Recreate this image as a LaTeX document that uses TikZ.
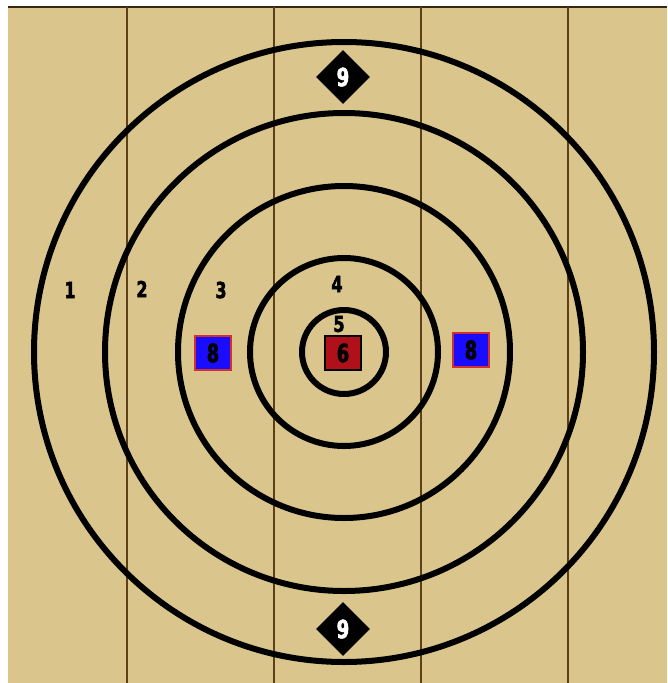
\documentclass[tikz,border=0pt]{standalone}
\usepackage{fontspec}
\newfontfamily\numfont[FakeBold=2.4,FakeStretch=0.8]{DejaVu Sans Condensed}
\usetikzlibrary{shapes.geometric}
\definecolor{tan}{HTML}{DAC68C}
\definecolor{plank}{HTML}{5E4018}
\definecolor{boxblue}{HTML}{1A0DFF}
\definecolor{boxred}{HTML}{B0101A}
\definecolor{rimred}{HTML}{D03030}
\tikzset{
  ring/.style={draw=black,line width=6pt},
  seam/.style={draw=plank,line width=2.6pt},
  zonelabel/.style={font=\numfont\bfseries\fontsize{22}{22}\selectfont,text=black,inner sep=0pt},
  bluebox/.style={draw=rimred,fill=boxblue,line width=1.5pt,minimum width=36pt,minimum height=34pt,inner sep=0pt,font=\numfont\bfseries\fontsize{25}{25}\selectfont},
  redbox/.style={draw=black,fill=boxred,line width=1.5pt,minimum width=36pt,minimum height=34pt,inner sep=0pt,font=\numfont\bfseries\fontsize{25}{25}\selectfont},
  tag/.style={diamond,fill=black,minimum width=54pt,minimum height=54pt,inner sep=0pt,text=white,font=\numfont\bfseries\fontsize{25}{25}\selectfont},
}
\begin{document}
\begin{tikzpicture}[x=1pt,y=-1pt]
\useasboundingbox (0,0) rectangle (667,683);
\fill[white] (0,0) rectangle (667,683);
\fill[tan] (8,7) rectangle (667,683);
\draw[plank!60!black,line width=1.5pt] (8,7) -- (667,7);
\foreach \x/\n in {127/s1,274/s2,421/s3,568/s4}{
  \coordinate (\n t) at (\x,7);
  \coordinate (\n b) at (\x,683);
  \draw[seam] (\n t) -- (\n b);
}
\coordinate (c) at (344,352);
\draw[ring] (c) circle (310);
\draw[ring] (c) circle (239);
\draw[ring] (c) circle (166);
\draw[ring] (c) circle (94);
\draw[ring] (c) circle (42);
\node[zonelabel] (z1) at (70,290) {1};
\node[zonelabel] (z2) at (142,289) {2};
\node[zonelabel] (z3) at (221,290) {3};
\node[zonelabel] (z4) at (337,284) {4};
\node[zonelabel] (z5) at (339,324) {5};
\node[bluebox] (b1) at (213,353) {8};
\node[bluebox] (b2) at (471,350) {8};
\node[redbox] (r1) at (343,353) {6};
\node[tag] (d1) at (343,77) {9};
\node[tag] (d2) at (343,629) {9};
\end{tikzpicture}
\end{document}
